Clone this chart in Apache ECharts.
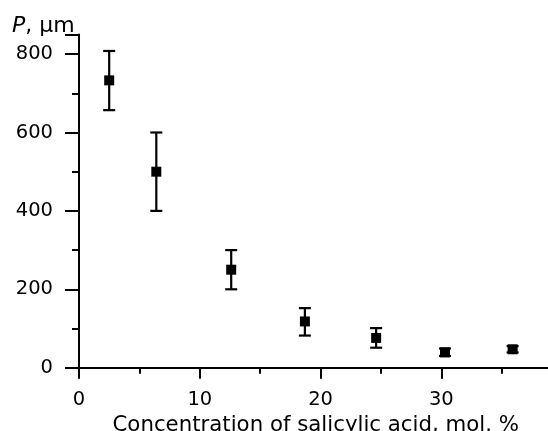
<!DOCTYPE html>
<html>
<head>
    <meta charset="utf-8">
    <script src="https://cdn.jsdelivr.net/npm/echarts@6/dist/echarts.min.js"></script>
    <style>
        body { margin: 0; background: #fff; }
    </style>
</head>
<body>
<div id="main" style="width: 548px;height:431px;"></div>
<script type="text/javascript">

  // concentration of salicylic acid, mol. %
  var conc = [2.5, 6.4, 12.6, 18.7, 24.6, 30.3, 35.9];
  // P, um
  var pValue = [733, 500, 250, 118, 76, 39, 47];
  var pLow = [657, 400, 200, 82, 51, 30, 39];
  var pHigh = [808, 600, 300, 152, 101, 49, 55];

  var xTicks = [0, 10, 20, 30];
  var yTicks = [0, 200, 400, 600, 800];

  var font = 'DejaVu Sans';

  var myChart = echarts.init(document.getElementById('main'));

  var points = conc.map(function (c, i) { return [c, pValue[i]]; });
  var bars = conc.map(function (c, i) { return [c, pLow[i], pHigh[i]]; });

  option = {
      animation: false,
      backgroundColor: '#fff',
      title: {
          text: '{i|P}, μm',
          left: 12,
          top: 15,
          padding: 0,
          textStyle: {
              fontFamily: font,
              fontSize: 22,
              fontWeight: 'normal',
              color: '#000',
              rich: {
                  i: { fontFamily: font, fontSize: 22, fontStyle: 'italic', color: '#000' }
              }
          }
      },
      // axis runs past the right edge, as in the source figure
      grid: {
          left: 79,
          right: -4.5,
          top: 34.5,
          bottom: 63.3,
          containLabel: false,
          outerBoundsMode: 'none'
      },
      xAxis: {
          type: 'value',
          min: 0,
          max: 39.2,
          interval: 10,
          name: 'Concentration of salicylic acid, mol. %',
          nameLocation: 'middle',
          nameGap: 42,
          nameTextStyle: { fontFamily: font, fontSize: 21.3, color: '#000' },
          splitLine: { show: false },
          axisLine: { onZero: false, lineStyle: { color: '#000', width: 2 } },
          axisTick: { length: 11, lineStyle: { color: '#000', width: 2 } },
          minorTick: { show: true, splitNumber: 2, length: 6, lineStyle: { color: '#000', width: 2 } },
          axisLabel: {
              margin: 22,
              fontFamily: font,
              fontSize: 19.5,
              color: '#000',
              showMaxLabel: false,
              formatter: function (v) { return xTicks.indexOf(v) >= 0 ? String(v) : ''; }
          }
      },
      yAxis: {
          type: 'value',
          min: 0,
          max: 850,
          interval: 200,
          splitLine: { show: false },
          axisLine: { show: true, onZero: false, lineStyle: { color: '#000', width: 2 } },
          axisTick: { show: true, length: 14, lineStyle: { color: '#000', width: 2 } },
          minorTick: { show: true, splitNumber: 2, length: 7, lineStyle: { color: '#000', width: 2 } },
          axisLabel: {
              margin: 26,
              fontFamily: font,
              fontSize: 19.5,
              color: '#000',
              formatter: function (v) { return yTicks.indexOf(v) >= 0 ? String(v) : ''; }
          }
      },
      series: [
          {
              type: 'custom',
              data: bars,
              z: 2,
              renderItem: function (params, api) {
                  var x = api.value(0);
                  var lo = api.coord([x, api.value(1)]);
                  var hi = api.coord([x, api.value(2)]);
                  var w = 6;
                  var st = { stroke: '#000', lineWidth: 2.2 };
                  return {
                      type: 'group',
                      children: [
                          { type: 'line', shape: { x1: lo[0], y1: lo[1], x2: hi[0], y2: hi[1] }, style: st },
                          { type: 'line', shape: { x1: lo[0] - w, y1: lo[1], x2: lo[0] + w, y2: lo[1] }, style: st },
                          { type: 'line', shape: { x1: hi[0] - w, y1: hi[1], x2: hi[0] + w, y2: hi[1] }, style: st }
                      ]
                  };
              }
          },
          {
              type: 'scatter',
              data: points,
              symbol: 'rect',
              symbolSize: 10,
              z: 3,
              itemStyle: { color: '#000', opacity: 1 }
          }
      ]
  };

  myChart.setOption(option);

</script>
</body>
</html>
